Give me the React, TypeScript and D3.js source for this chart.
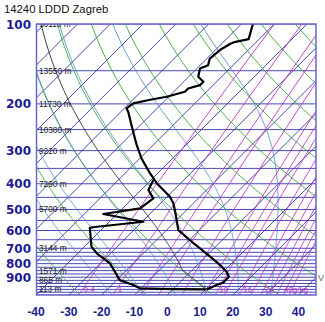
import React from 'react';
import * as d3 from 'd3';

const TITLE = '14240 LDDD Zagreb';

const isobars = [100, 150, 200, 250, 300, 350, 400, 450, 500, 550, 600, 650, 700, 725, 750, 775, 800, 825, 850, 875, 900, 925, 950, 975, 1000, 1025, 1050];
const pressureTicks = [100, 200, 300, 400, 500, 600, 700, 800, 900];
const tempTicks = [-40, -30, -20, -10, 0, 10, 20, 30, 40];
const isotherms = [-130, -120, -110, -100, -90, -80, -70, -60, -50, -40, -30, -20, -10, 0, 10, 20, 30, 40];
const dryAdiabats = [-30, -10, 10, 30, 50, 70, 90, 110, 130, 150, 170, 190];
const moistAdiabats = [-20, -10, 0, 10, 20, 30];
const mixingRatios = [0.4, 1, 2, 3, 5, 8, 10, 12, 16, 20, 24, 28, 32, 36, 40];
const mixingLabels = ['0.4', '1', '10', '16', '24', '40g/kg'];
const mixingLabelValues = [0.4, 1, 10, 16, 24, 40];

const heightP = [100, 150, 200, 250, 300, 400, 500, 700, 850, 925, 1000];
const heightText = ['16110 m', '13550 m', '11730 m', '10380 m', '9220 m', '7290 m', '5700 m', '3144 m', '1571 m', '865 m', '113 m'];

const tempP = [100, 114, 117, 119, 125, 135, 143, 147, 158, 165, 170, 175, 180, 188, 193, 199, 208, 214, 258, 286, 321, 365, 398, 422, 448, 474, 502, 598, 670, 753, 798, 858, 896, 942, 963, 988, 1000];
const tempT = [-56.5, -53.2, -56.6, -57.4, -58.6, -59.1, -57.6, -59.1, -57.1, -54.0, -54.0, -56.6, -56.6, -60.6, -64.7, -68.8, -69.3, -67.8, -59.6, -55.0, -49.5, -42.4, -37.3, -33.2, -29.1, -26.1, -23.6, -16.4, -7.8, 1.4, 5.9, 11.0, 13.2, 13.3, 12.0, 10.9, 10.4];

const dewP = [387, 422, 454, 495, 520, 556, 582, 586, 691, 731, 798, 923, 963, 991, 997, 1000];
const dewT = [-39.3, -37.8, -33.7, -34.7, -44.2, -29.6, -42.8, -44.1, -37.8, -34.2, -27.1, -19.0, -13.4, -10.4, 0.0, 10.0];

const parcelStartP = 1000;
const parcelStartT = 10.4;
const parcelMixingRatio = 3.6; // g/kg

// geometry
const LEFT = 36.5, RIGHT = 316, TOP = 24, BOTTOM = 295;
const y = d3.scaleLog().domain([100, 1050]).range([TOP, BOTTOM]);
const xT = d3.scaleLinear().domain([-40, 40]).range([36.05, 298.45]);
const skewX = (T: number, p: number) => xT(T) + (BOTTOM - y(p));

const esat = (Tc: number) => 6.112 * Math.exp((17.67 * Tc) / (Tc + 243.5));
function dTdp(p: number, T: number) {
  const es = esat(T - 273.15);
  const rs = (0.622 * es) / (p - es);
  const Rd = 287.04, cp = 1005.7, Lv = 2.501e6;
  return ((1 / p) * (Rd * T + Lv * rs)) / (cp + (Lv * Lv * rs * 0.622) / (Rd * T * T));
}
function moistUp(p0: number, Tc0: number, pTop: number): [number, number][] {
  const out: [number, number][] = [];
  let p = p0, T = Tc0 + 273.15;
  out.push([p, T - 273.15]);
  const dp = -2;
  while (p > pTop) {
    const k1 = dTdp(p, T);
    const k2 = dTdp(p + dp / 2, T + (k1 * dp) / 2);
    T += k2 * dp;
    p += dp;
    out.push([p, T - 273.15]);
  }
  return out;
}
function moistPath(thetaW: number): [number, number][] {
  const up = moistUp(1000, thetaW, 100);
  const down: [number, number][] = [];
  let p = 1000, T = thetaW + 273.15;
  while (p < 1050) {
    const k1 = dTdp(p, T);
    const k2 = dTdp(p + 1, T + k1);
    T += k2 * 2;
    p += 2;
    down.push([p, T - 273.15]);
  }
  return down.reverse().concat(up);
}
const tdFromW = (w: number, p: number) => {
  const e = (w * p) / (622 + w);
  const l = Math.log(e / 6.112);
  return (243.5 * l) / (17.67 - l);
};
function parcelPath(): [number, number][] {
  const th = parcelStartT + 273.15;
  const pts: [number, number][] = [];
  let p = parcelStartP;
  let T = parcelStartT;
  while (p > 100) {
    T = th * Math.pow(p / 1000, 0.2857) - 273.15;
    pts.push([p, T]);
    if (T <= tdFromW(parcelMixingRatio, p)) break;
    p -= 1;
  }
  return pts.concat(moistUp(p, T, 100));
}

const pGrid = d3.range(1050, 99, -5);
const line = d3.line<[number, number]>().x(d => d[0]).y(d => d[1]);
const toXY = (pts: [number, number][]) => pts.map(([p, T]) => [skewX(T, p), y(p)] as [number, number]);

export default function App() {
  const font = 'Liberation Sans, Arial, sans-serif';
  const lastLabel = mixingLabelValues.length - 1;
  return (
    <svg width={325} height={322} style={{ position: 'absolute', left: 0, top: 0, background: '#fff' }} fontFamily={font}>
      <defs>
        <clipPath id="frame"><rect x={LEFT} y={TOP} width={RIGHT - LEFT} height={BOTTOM - TOP} /></clipPath>
      </defs>
      <text x={4} y={13} fontSize={11.3} fill="#111">{TITLE}</text>
      <g clipPath="url(#frame)">
        {isobars.map(p => (
          <line key={'ib' + p} x1={LEFT} x2={RIGHT} y1={y(p)} y2={y(p)} stroke="#4848b8" strokeWidth={1} />
        ))}
        {isotherms.map(T => (
          <line key={'it' + T} x1={skewX(T, 1050)} y1={y(1050)} x2={skewX(T, 100)} y2={y(100)} stroke="#3434a8" strokeWidth={0.9} />
        ))}
        {dryAdiabats.map(th => (
          <path key={'da' + th} fill="none" stroke="#38a838" strokeWidth={0.9}
            d={line(toXY(pGrid.map(p => [p, (th + 273.15) * Math.pow(p / 1000, 0.2857) - 273.15] as [number, number]))) || ''} />
        ))}
        {moistAdiabats.map(tw => (
          <path key={'ma' + tw} fill="none" stroke="#5a8cc8" strokeWidth={0.9}
            d={line(toXY(moistPath(tw))) || ''} />
        ))}
        {mixingRatios.map(w => (
          <path key={'mr' + w} fill="none" stroke="#c030c0" strokeWidth={0.9}
            d={line(toXY(pGrid.map(p => [p, tdFromW(w, p)] as [number, number]))) || ''} />
        ))}
        <path fill="none" stroke="#222" strokeWidth={0.9} d={line(toXY(parcelPath())) || ''} />
        <path fill="none" stroke="#000" strokeWidth={2.2} strokeLinejoin="round"
          d={line(toXY(tempP.map((p, i) => [p, tempT[i]] as [number, number]))) || ''} />
        <path fill="none" stroke="#000" strokeWidth={2.2} strokeLinejoin="round"
          d={line(toXY(dewP.map((p, i) => [p, dewT[i]] as [number, number]))) || ''} />
        {heightP.map((p, i) => (
          <text key={'h' + p} x={LEFT + 2.5} y={y(p) + 3} fontSize={8.3} fill="#222">{heightText[i]}</text>
        ))}
        {mixingLabelValues.map((w, i) => (
          i === lastLabel ? (
            <text key={'ml' + w} x={RIGHT - 8} y={y(1000) + 3} fontSize={8} textAnchor="end" fill="#c030c0">{mixingLabels[i]}</text>
          ) : (
            <text key={'ml' + w} x={skewX(tdFromW(w, 1000), 1000) + 1} y={y(1000) + 3} fontSize={8} fill="#c030c0">{mixingLabels[i]}</text>
          )
        ))}
      </g>
      <rect x={LEFT} y={TOP} width={RIGHT - LEFT} height={BOTTOM - TOP} fill="none" stroke="#6868c8" strokeWidth={1.5} />
      {pressureTicks.map(p => (
        <text key={'pt' + p} x={31} y={y(p) + 4.5} fontSize={12} fontFamily="DejaVu Sans, sans-serif" fontWeight="bold" textAnchor="end" fill="#1c1c8c">{p}</text>
      ))}
      {tempTicks.map(T => (
        <text key={'tt' + T} x={xT(T)} y={316} fontSize={12} fontWeight="bold" textAnchor="middle" fill="#1c1c8c">{T}</text>
      ))}
      <text x={318} y={281} fontSize={9} fill="#666">V</text>
    </svg>
  );
}
